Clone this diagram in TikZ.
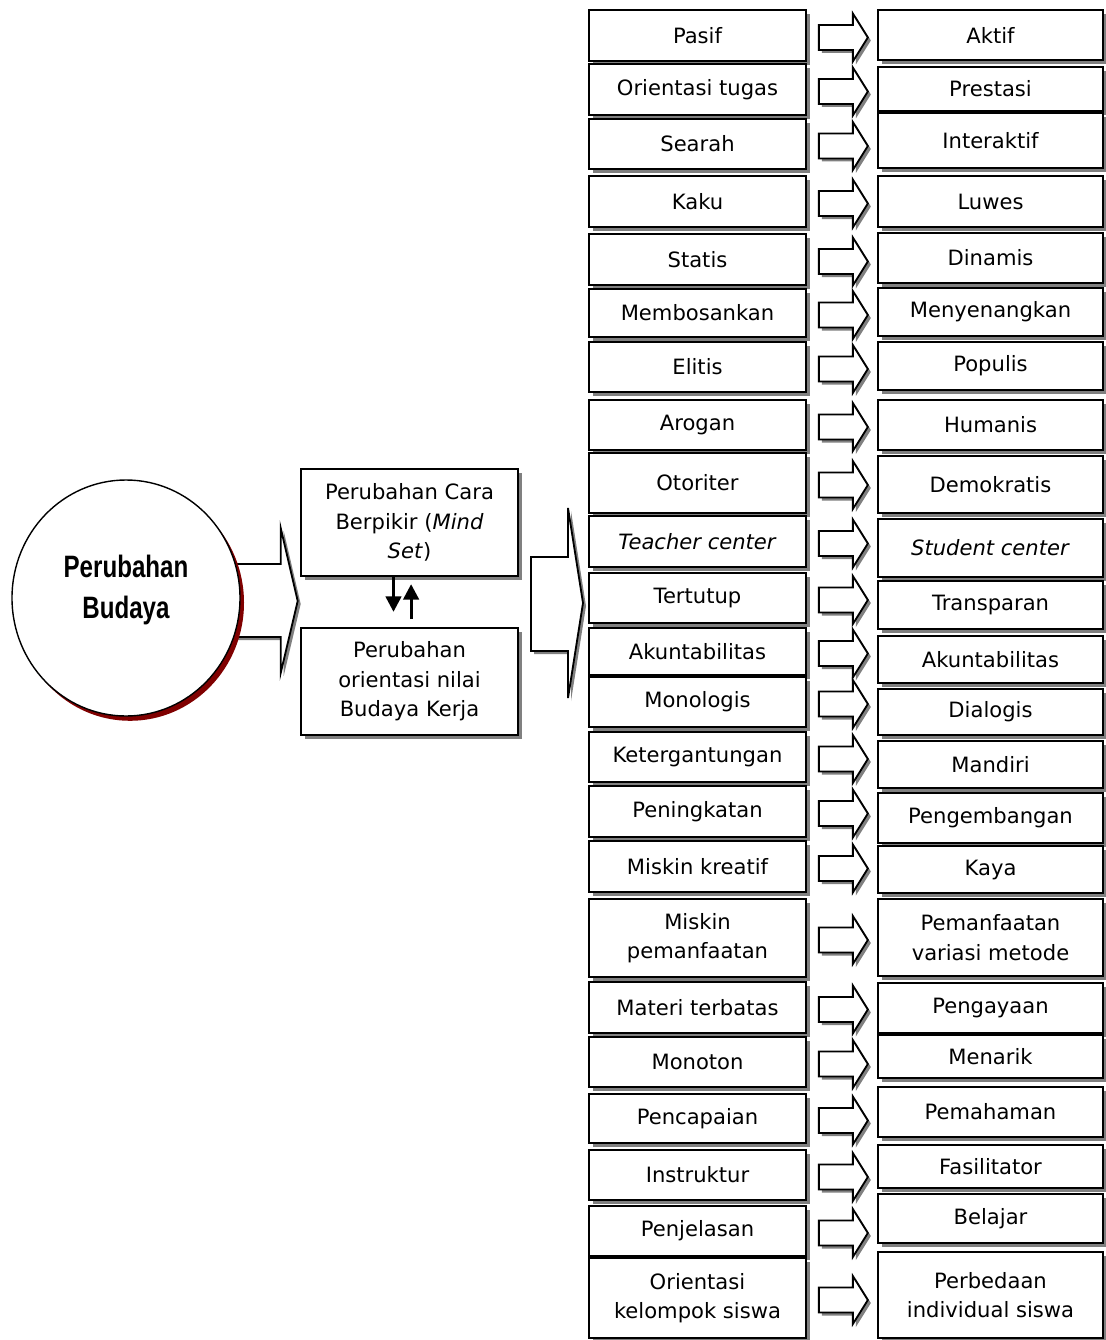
\documentclass[tikz,border=0pt]{standalone}
\usepackage{graphicx}
\usepackage{fontspec}
\setmainfont{DejaVu Sans}
\newfontfamily\headfont{Liberation Sans}
\usetikzlibrary{shadows, arrows.meta, backgrounds, shapes.geometric}

\definecolor{shadowred}{RGB}{128,0,0}
\newcommand{\pxu}{0.025cm}

\tikzset{
  boxshadow/.style = {drop shadow = {shadow xshift = 0.1cm, shadow yshift = -0.1cm, fill = black!50, opacity = 1}},
  itembox/.style = {rectangle, draw = black, line width = 1.2pt, fill = white, inner sep = 2pt,
                    align = center, font = \fontsize{15}{21}\selectfont, boxshadow},
  blockarrow/.style = {draw = black, line width = 1.3pt, fill = white},
  arrowshadow/.style = {fill = black!50},
}

% box of the left / right column, from top y to bottom y
\newcommand{\leftbox}[4]{\node[itembox, minimum width = 217*\pxu, minimum height = {(#3-#2)*\pxu}] (#1) at (697.5,{(#2+#3)/2}) {#4};}
\newcommand{\rightbox}[4]{\node[itembox, minimum width = 225*\pxu, minimum height = {(#3-#2)*\pxu}] (#1) at (990.5,{(#2+#3)/2}) {#4};}
% small block arrow next to a left box
\newcommand{\arrowpath}{(12,-10.5) -- (46,-10.5) -- (46,-22) -- (61,2) -- (46,26) -- (46,14.5) -- (12,14.5) -- cycle}
\newcommand{\changearrow}[1]{%
  \begin{scope}[shift = {(#1.east)}]
    \fill[arrowshadow, shift = {(3,3)}] \arrowpath;
    \draw[blockarrow] \arrowpath;
  \end{scope}}

\begin{document}
\begin{tikzpicture}[x = 0.025cm, y = -0.025cm, % one unit = one pixel, y downwards
                    > = {Triangle[length = 11pt, width = 11pt]}]
  \useasboundingbox (0,0) rectangle (1105,1340);

  % circle
  \node[ellipse, draw = black, line width = 1pt, fill = white, inner sep = 0pt,
        minimum width = 228*\pxu, minimum height = 236*\pxu,
        drop shadow = {shadow xshift = 0.1cm, shadow yshift = -0.12cm, fill = shadowred, opacity = 1},
        label = {[font = \headfont\bfseries\fontsize{22}{28.5}\selectfont, align = center, yshift = 0.2cm]center:{\scalebox{0.78}[1]{Perubahan}\\\scalebox{0.78}[1]{Budaya}}}]
        (budaya) at (126,598) {};

  \begin{pgfonlayer}{background}
    \begin{scope}[shift = {(budaya.east)}]
      \fill[arrowshadow, shift = {(3,3)}] (-30,-34) -- (40,-34) -- (40,-70) -- (57,3) -- (40,75) -- (40,39) -- (-30,39) -- cycle;
      \draw[blockarrow] (-30,-34) -- (40,-34) -- (40,-70) -- (57,3) -- (40,75) -- (40,39) -- (-30,39) -- cycle;
    \end{scope}
  \end{pgfonlayer}

  % middle boxes
  \node[itembox, minimum width = 217*\pxu, minimum height = 107*\pxu] (cara) at (409.5,522.5)
       {Perubahan Cara\\Berpikir (\textit{Mind}\\\textit{Set})};
  \node[itembox, minimum width = 217*\pxu, minimum height = 107*\pxu] (nilai) at (409.5,681.5)
       {Perubahan\\orientasi nilai\\Budaya Kerja};
  \draw[->, line width = 2.2pt] ([xshift = -0.4cm]cara.south) -- ++(0,35);
  \draw[->, line width = 2.2pt] ([xshift = 0.04cm, yshift = 0.2cm]nilai.north) -- ++(0,-35);

  % big arrow to the columns
  \fill[arrowshadow, shift = {(3,3)}] (531,557) -- (568,557) -- (568,508) -- (583,603) -- (568,698) -- (568,651) -- (531,651) -- cycle;
  \draw[blockarrow] (531,557) -- (568,557) -- (568,508) -- (583,603) -- (568,698) -- (568,651) -- (531,651) -- cycle;

  % left column
  \leftbox{l1}{10}{61}{Pasif}
  \leftbox{l2}{64}{115}{Orientasi tugas}
  \leftbox{l3}{119}{169}{Searah}
  \leftbox{l4}{176}{227}{Kaku}
  \leftbox{l5}{234}{285}{Statis}
  \leftbox{l6}{289}{337}{Membosankan}
  \leftbox{l7}{342}{392}{Elitis}
  \leftbox{l8}{400}{450}{Arogan}
  \leftbox{l9}{453}{513}{Otoriter}
  \leftbox{l10}{516}{567}{\textit{Teacher center}}
  \leftbox{l11}{573}{623}{Tertutup}
  \leftbox{l12}{628}{675}{Akuntabilitas}
  \leftbox{l13}{677}{727}{Monologis}
  \leftbox{l14}{732}{782}{Ketergantungan}
  \leftbox{l15}{786}{837}{Peningkatan}
  \leftbox{l16}{841}{892}{Miskin kreatif}
  \leftbox{l17}{899}{977}{Miskin\\pemanfaatan}
  \leftbox{l18}{982}{1033}{Materi terbatas}
  \leftbox{l19}{1037}{1087}{Monoton}
  \leftbox{l20}{1094}{1143}{Pencapaian}
  \leftbox{l21}{1150}{1200}{Instruktur}
  \leftbox{l22}{1206}{1256}{Penjelasan}
  \leftbox{l23}{1258}{1338}{Orientasi\\kelompok siswa}

  % right column
  \rightbox{r1}{10}{60}{Aktif}
  \rightbox{r2}{67}{111}{Prestasi}
  \rightbox{r3}{113}{168}{Interaktif}
  \rightbox{r4}{176}{227}{Luwes}
  \rightbox{r5}{233}{283}{Dinamis}
  \rightbox{r6}{288}{336}{Menyenangkan}
  \rightbox{r7}{342}{390}{Populis}
  \rightbox{r8}{400}{450}{Humanis}
  \rightbox{r9}{456}{513}{Demokratis}
  \rightbox{r10}{519}{577}{\textit{Student center}}
  \rightbox{r11}{581}{629}{Transparan}
  \rightbox{r12}{636}{683}{Akuntabilitas}
  \rightbox{r13}{689}{735}{Dialogis}
  \rightbox{r14}{741}{788}{Mandiri}
  \rightbox{r15}{793}{843}{Pengembangan}
  \rightbox{r16}{846}{893}{Kaya}
  \rightbox{r17}{899}{976}{Pemanfaatan\\variasi metode}
  \rightbox{r18}{983}{1033}{Pengayaan}
  \rightbox{r19}{1035}{1078}{Menarik}
  \rightbox{r20}{1087}{1137}{Pemahaman}
  \rightbox{r21}{1145}{1188}{Fasilitator}
  \rightbox{r22}{1194}{1243}{Belajar}
  \rightbox{r23}{1252}{1338}{Perbedaan\\individual siswa}

  % arrows between the columns
  \foreach \i in {1,...,23} {\changearrow{l\i}}
\end{tikzpicture}
\end{document}
